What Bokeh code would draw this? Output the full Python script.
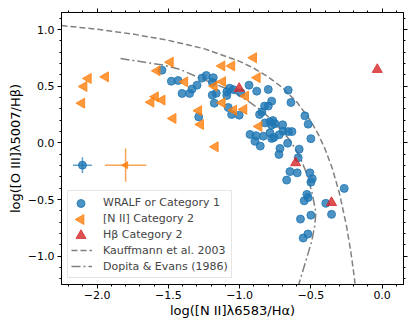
import numpy as np
from bokeh.plotting import figure
from bokeh.models import (LinearAxis, SingleIntervalTicker, CustomJSTickFormatter,
                          Legend, LegendItem, Range1d)
from bokeh.embed import file_html
from bokeh.resources import INLINE

# ---- data ----
cat1_x = [-1.545, -1.479, -1.432, -1.404, -1.351, -1.334, -1.299, -1.264, -1.234, -1.185,
          -1.192, -1.192, -1.164, -1.178, -1.287, -1.090, -1.090, -1.070, -1.043, -1.080,
          -1.056, -1.003, -0.990, -0.934, -0.880, -0.799, -0.775, -0.799, -0.825, -0.843,
          -0.860, -0.659, -0.640, -0.542, -0.519, -0.822, -0.787, -0.766, -0.752, -0.776,
          -0.698, -0.927, -0.885, -0.834, -0.787, -0.775, -0.759, -0.722, -0.694, -0.659,
          -0.633, -0.892, -0.855, -0.663, -0.500, -0.717, -0.724, -0.582, -0.589, -0.647,
          -0.596, -0.507, -0.490, -0.500, -0.670, -0.266, -0.528, -0.519, -0.547, -0.395,
          -0.355, -0.500, -0.573, -0.521, -0.554]
cat1_y = [0.641, 0.544, 0.550, 0.436, 0.436, 0.474, 0.509, 0.571, 0.594, 0.575,
          0.535, 0.421, 0.438, 0.350, 0.229, 0.450, 0.418, 0.482, 0.469, 0.312,
          0.250, 0.244, 0.441, 0.509, 0.456, 0.471, 0.368, 0.324, 0.324, 0.273,
          0.250, 0.465, 0.356, 0.238, 0.165, 0.176, 0.187, 0.196, 0.169, 0.156,
          0.159, 0.074, 0.062, 0.059, 0.088, 0.039, 0.048, 0.072, 0.103, 0.099,
          0.099, 0.015, -0.029, -0.003, 0.037, -0.049, -0.102, -0.056, -0.131, -0.254,
          -0.265, -0.265, -0.316, -0.347, -0.329, -0.402, -0.455, -0.483, -0.512, -0.534,
          -0.631, -0.638, -0.673, -0.805, -0.840]

nii_x = [-1.486, -1.579, -1.385, -2.062, -1.941, -2.092, -2.108, -1.591, -1.544, -1.622,
         -1.467, -1.287, -1.274, -1.124, -1.055, -0.902, -0.876, -1.119, -1.178, -0.958,
         -1.122, -1.042, -0.970, -0.864, -1.171]
nii_y = [0.712, 0.635, 0.538, 0.568, 0.582, 0.497, 0.350, 0.406, 0.377, 0.359,
         0.215, 0.284, 0.162, 0.679, 0.679, 0.751, 0.575, 0.540, 0.500, 0.412,
         0.354, 0.288, 0.295, 0.145, -0.035]

hb_x = [-0.034, -1.003, -0.607, -0.355]
hb_y = [0.647, 0.480, -0.176, -0.527]

# typical error bars
err_x = [-2.103, -1.800]
err_y = [-0.197, -0.197]
err_dx = [0.066, 0.145]
err_dy = [0.070, 0.147]

kauff_x = [-2.25, -2.0, -1.75, -1.5, -1.25, -1.0, -0.9, -0.8, -0.7, -0.6, -0.5,
           -0.45, -0.4, -0.35, -0.3, -0.25, -0.22, -0.2, -0.19]
kauff_y = [1.035, 1.002, 0.960, 0.904, 0.831, 0.719, 0.658, 0.582, 0.487, 0.362, 0.191,
           0.080, -0.056, -0.225, -0.443, -0.733, -0.959, -1.140, -1.242]

dopita_x = [-1.836, -1.533, -1.416, -1.299, -1.183, -1.066, -0.950, -0.834, -0.738,
            -0.647, -0.577, -0.530, -0.493, -0.465, -0.472, -0.495, -0.530, -0.584]
dopita_y = [0.744, 0.685, 0.647, 0.582, 0.524, 0.465, 0.377, 0.273, 0.152,
            0.024, -0.123, -0.270, -0.435, -0.611, -0.726, -0.873, -1.019, -1.246]

labels = ["WRALF or Category 1", "[N II] Category 2", "H\u03b2 Category 2",
          "Kauffmann et al. 2003", "Dopita & Evans (1986)"]

BLUE = "#1f77b4"
ORANGE = "#ff7f0e"
RED = "#d62728"
FONT = "DejaVu Sans"

X0, X1 = -2.25, 0.15
Y0, Y1 = -1.25, 1.15
W, H = 415, 329
BL, BR, BT, BB = 61, 12, 12, 45
FW, FH = W - BL - BR, H - BT - BB

p = figure(width=W, height=H, output_backend="svg", toolbar_location=None,
           x_range=Range1d(X0, X1), y_range=Range1d(Y0, Y1),
           min_border_left=BL, min_border_right=BR, min_border_top=BT, min_border_bottom=BB,
           x_axis_label="log([N II]\u03bb6583/H\u03b1)",
           y_axis_label="log([O III]\u03bb5007/H\u03b2)")
p.xgrid.visible = False
p.ygrid.visible = False
p.outline_line_color = "black"
p.outline_line_width = 1
p.background_fill_color = "white"
p.border_fill_color = "white"

fmt = CustomJSTickFormatter(code="""
if (Math.abs(tick) < 1e-9) { return '0.0'; }
return tick.toFixed(1).replace('-', '\u2212');
""")
blank = CustomJSTickFormatter(code="return '';")

def style_axis(ax, show_labels):
    ax.ticker = SingleIntervalTicker(interval=0.5, num_minor_ticks=5)
    ax.major_tick_out = 4
    ax.major_tick_in = 0
    ax.minor_tick_out = 2
    ax.minor_tick_in = 0
    ax.axis_line_color = "black"
    ax.major_tick_line_color = "black"
    ax.minor_tick_line_color = "black"
    if show_labels:
        ax.formatter = fmt
        ax.major_label_text_font = FONT
        ax.major_label_text_font_size = "11px"
        ax.major_label_text_color = "black"
        ax.major_label_standoff = 2
        ax.axis_label_text_font = FONT
        ax.axis_label_text_font_size = "13px"
        ax.axis_label_text_font_style = "normal"
        ax.axis_label_text_color = "black"
        ax.axis_label_standoff = 1
    else:
        ax.formatter = blank
        ax.major_label_text_font_size = "0px"
        ax.major_label_standoff = 0
        ax.axis_label_standoff = 0

style_axis(p.xaxis[0], True)
style_axis(p.yaxis[0], True)
p.yaxis[0].major_label_standoff = 3
p.yaxis[0].axis_label_standoff = 2

top = LinearAxis()
right = LinearAxis()
style_axis(top, False)
style_axis(right, False)
p.add_layout(top, "above")
p.add_layout(right, "right")

# reference lines
r_k = p.line(kauff_x, kauff_y, line_color="gray", line_width=1.5, line_dash="6 3")
r_d = p.line(dopita_x, dopita_y, line_color="gray", line_width=1.5, line_dash="9 3 2 3")

# error bars
ex0 = [x - d for x, d in zip(err_x, err_dx)]
ex1 = [x + d for x, d in zip(err_x, err_dx)]
ey0 = [y - d for y, d in zip(err_y, err_dy)]
ey1 = [y + d for y, d in zip(err_y, err_dy)]
ecol = [BLUE, ORANGE]
p.segment(ex0, err_y, ex1, err_y, line_color=ecol, line_width=1.5, line_alpha=0.7)
p.segment(err_x, ey0, err_x, ey1, line_color=ecol, line_width=1.5, line_alpha=0.7)
p.scatter(err_x[:1], err_y[:1], marker="circle", size=8, fill_color=BLUE, line_color=BLUE,
          fill_alpha=0.8, line_alpha=0.8)
p.scatter(err_x[1:], err_y[1:], marker="triangle", angle=np.pi / 2, size=7,
          fill_color=ORANGE, line_color=ORANGE, fill_alpha=0.8, line_alpha=0.8)

# data
r_b = p.scatter(cat1_x, cat1_y, marker="circle", size=8, fill_color=BLUE, line_color=BLUE,
                fill_alpha=0.8, line_alpha=0.8)
r_o = p.scatter(nii_x, nii_y, marker="triangle", angle=np.pi / 2, size=10,
                fill_color=ORANGE, line_color=ORANGE, fill_alpha=0.8, line_alpha=0.8)
r_r = p.scatter(hb_x, hb_y, marker="triangle", size=10, fill_color=RED, line_color=RED,
                fill_alpha=0.8, line_alpha=0.8)

# invisible stand-ins for the marker rows of the legend (markers drawn below, full size,
# because Bokeh legends shrink markers and do not rotate them)
stand_in = [p.scatter([], [], marker="circle", size=8, fill_alpha=0, line_alpha=0)
            for _ in range(3)]

LEG_X, LEG_Y, PAD, GW, GH, SP = 6, 6, 3, 21, 16, 0
legend = Legend(items=[LegendItem(label=labels[0], renderers=[stand_in[0]]),
                       LegendItem(label=labels[1], renderers=[stand_in[1]]),
                       LegendItem(label=labels[2], renderers=[stand_in[2]]),
                       LegendItem(label=labels[3], renderers=[r_k]),
                       LegendItem(label=labels[4], renderers=[r_d])],
                location=(LEG_X, LEG_Y), orientation="vertical")
legend.label_text_font = FONT
legend.label_text_font_size = "11px"
legend.label_height = GH
legend.glyph_height = GH
legend.glyph_width = GW
legend.label_standoff = 11
legend.spacing = SP
legend.padding = PAD
legend.margin = 0
legend.border_line_color = "#cccccc"
legend.border_line_width = 1
legend.background_fill_alpha = 0
p.add_layout(legend, "center")

# legend markers (screen offsets inside the frame -> data units)
n_rows = 5
leg_h = 2 * PAD + n_rows * GH + (n_rows - 1) * SP
row_cx = LEG_X + PAD + GW / 2
lx = X0 + row_cx / FW * (X1 - X0)
def row_y(i):
    cy = LEG_Y + leg_h - PAD - GH / 2 - i * (GH + SP)
    return Y0 + cy / FH * (Y1 - Y0)

p.scatter([lx], [row_y(0)], marker="circle", size=8, fill_color=BLUE, line_color=BLUE,
          fill_alpha=0.8, line_alpha=0.8)
p.scatter([lx], [row_y(1)], marker="triangle", angle=np.pi / 2, size=10, fill_color=ORANGE,
          line_color=ORANGE, fill_alpha=0.8, line_alpha=0.8)
p.scatter([lx], [row_y(2)], marker="triangle", size=10, fill_color=RED, line_color=RED,
          fill_alpha=0.8, line_alpha=0.8)

open("out.html", "w").write(file_html(p, INLINE))
